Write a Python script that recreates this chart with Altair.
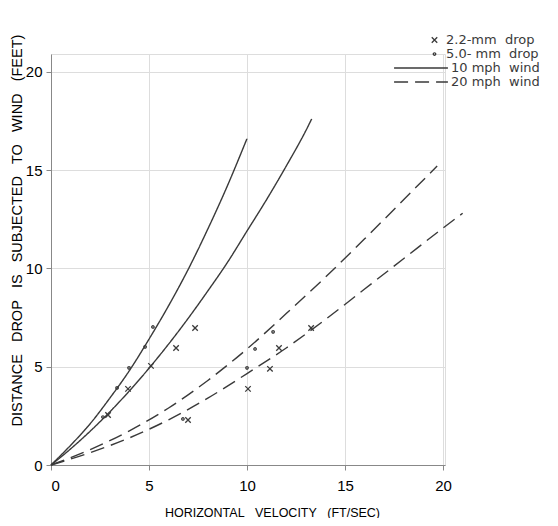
import altair as alt
import pandas as pd

# ---- curve readings (x = horizontal velocity ft/s, y = distance ft) ----
a_x = [0, 1, 2, 3, 4, 5, 6, 7, 8, 9, 10]
a_y = [0, 1.0, 2.1, 3.4, 4.8, 6.4, 8.1, 9.95, 12.0, 14.2, 16.6]          # 5.0 mm, 10 mph
b_x = [0, 1, 2, 3, 4, 5, 6, 7, 8, 9, 10, 11, 12, 13, 13.3]
b_y = [0, 0.82, 1.72, 2.7, 3.77, 4.92, 6.15, 7.46, 8.85, 10.3, 11.9, 13.5, 15.2, 17.0, 17.6]  # 2.2 mm, 10 mph
c_x = [0, 2, 4, 6, 8, 10, 12, 14, 16, 18, 19.7]
c_y = [0, 0.78, 1.74, 2.9, 4.3, 5.9, 7.7, 9.55, 11.5, 13.5, 15.2]          # 5.0 mm, 20 mph
d_x = [0, 2, 4, 6, 8, 10, 12, 14, 16, 18, 20, 21]
d_y = [0, 0.63, 1.38, 2.3, 3.4, 4.65, 5.95, 7.4, 8.95, 10.5, 12.05, 12.8]  # 2.2 mm, 20 mph

# ---- observed points ----
x22_x = [7.35, 6.38, 5.10, 3.93, 2.91, 6.99, 10.05, 11.17, 11.63, 13.27]
x22_y = [6.97, 5.95, 5.04, 3.87, 2.54, 2.29, 3.87, 4.89, 5.95, 6.97]
x50_x = [5.20, 4.80, 3.98, 3.37, 2.65, 6.73, 10.0, 10.41, 11.33]
x50_y = [7.02, 6.01, 4.94, 3.92, 2.44, 2.34, 4.94, 5.90, 6.77]

drop_labels = ["2.2-mm\u00a0\u00a0drop", "5.0-\u00a0mm\u00a0\u00a0drop"]
wind_labels = ["10\u00a0mph\u00a0\u00a0wind", "20\u00a0mph\u00a0\u00a0wind"]
x_ticks = [0, 5, 10, 15, 20]
y_ticks = [0, 5, 10, 15, 20]

rows = []
for name, wind, xs, ys in [("A", wind_labels[0], a_x, a_y), ("B", wind_labels[0], b_x, b_y),
                           ("C", wind_labels[1], c_x, c_y), ("D", wind_labels[1], d_x, d_y)]:
    for i, (xv, yv) in enumerate(zip(xs, ys)):
        rows.append({"curve": name, "wind": wind, "x": xv, "y": yv, "o": i})
lines_df = pd.DataFrame(rows)

prow = []
for lab, xs, ys in [(drop_labels[0], x22_x, x22_y), (drop_labels[1], x50_x, x50_y)]:
    for xv, yv in zip(xs, ys):
        prow.append({"drop": lab, "x": xv, "y": yv})
pts_df = pd.DataFrame(prow)

INK = "#3a3a3a"
FONT = "DejaVu Sans"
XPATH = "M-1,-1L1,1M1,-1L-1,1"
SP = "\u00a0\u00a0\u00a0"

xs = alt.X("x:Q", scale=alt.Scale(domain=[0, 20.1], nice=False, zero=False),
           axis=alt.Axis(values=x_ticks, title="HORIZONTAL" + SP + "VELOCITY" + SP + "(FT/SEC)",
                         titleX=221, titleY=47, titleBaseline="middle", titleAnchor="start",
                         titleAlign="center", labelPadding=8, labelFontSize=15,
                         titleFontSize=12.5, titleFontWeight="normal"))
ys = alt.Y("y:Q", scale=alt.Scale(domain=[0, 20.9], nice=False, zero=False),
           axis=alt.Axis(values=y_ticks,
                         title=SP.join(["DISTANCE", "DROP", "IS", "SUBJECTED", "TO", "WIND", "(FEET)"]),
                         titleX=-34, titleY=176, titleBaseline="middle", titleAlign="center",
                         titleAnchor="start", labelPadding=4, labelFontSize=15,
                         titleFontSize=14.5, titleFontWeight="normal"))

lines = alt.Chart(lines_df).mark_line(color=INK, strokeWidth=1.4, interpolate="monotone").encode(
    x=xs, y=ys, detail="curve:N", order="o:Q",
    strokeDash=alt.StrokeDash("wind:N",
                              scale=alt.Scale(domain=wind_labels, range=[[1, 0], [14, 7]]),
                              legend=alt.Legend(title=None, orient="none", legendX=342, legendY=7,
                                                symbolType="stroke", symbolSize=2900,
                                                symbolStrokeColor=INK, symbolStrokeWidth=1.4,
                                                labelFontSize=13, labelOffset=2, padding=0,
                                                clipHeight=14, rowPadding=0, labelColor=INK,
                                                labelFont=FONT)))

pt_legend = alt.Legend(title=None, orient="none", legendX=377, legendY=-21,
                       symbolStrokeColor=INK, symbolStrokeWidth=1.3,
                       labelFontSize=13, labelOffset=5, padding=0,
                       clipHeight=14, rowPadding=0, labelColor=INK, labelFont=FONT)

points = alt.Chart(pts_df).mark_point(filled=False, color=INK, strokeWidth=1.3, opacity=1).encode(
    x="x:Q", y="y:Q",
    shape=alt.Shape("drop:N", scale=alt.Scale(domain=drop_labels, range=[XPATH, "circle"]),
                    legend=pt_legend),
    size=alt.Size("drop:N", scale=alt.Scale(domain=drop_labels, range=[30, 6]), legend=pt_legend),
)

chart = alt.layer(lines, points).properties(
    width=394, height=411,
    autosize=alt.AutoSizeParams(type="none"),
    padding={"left": 43, "top": 46, "right": 105, "bottom": 53},
).configure_view(stroke=None).configure_axis(
    grid=False, ticks=False, tickSize=0, domainColor=INK, domainWidth=1.3,
    labelColor=INK, titleColor=INK, labelFont=FONT, titleFont=FONT,
).configure(background="white")

chart.save("out.html", embed_options={"renderer": "svg", "actions": False})
